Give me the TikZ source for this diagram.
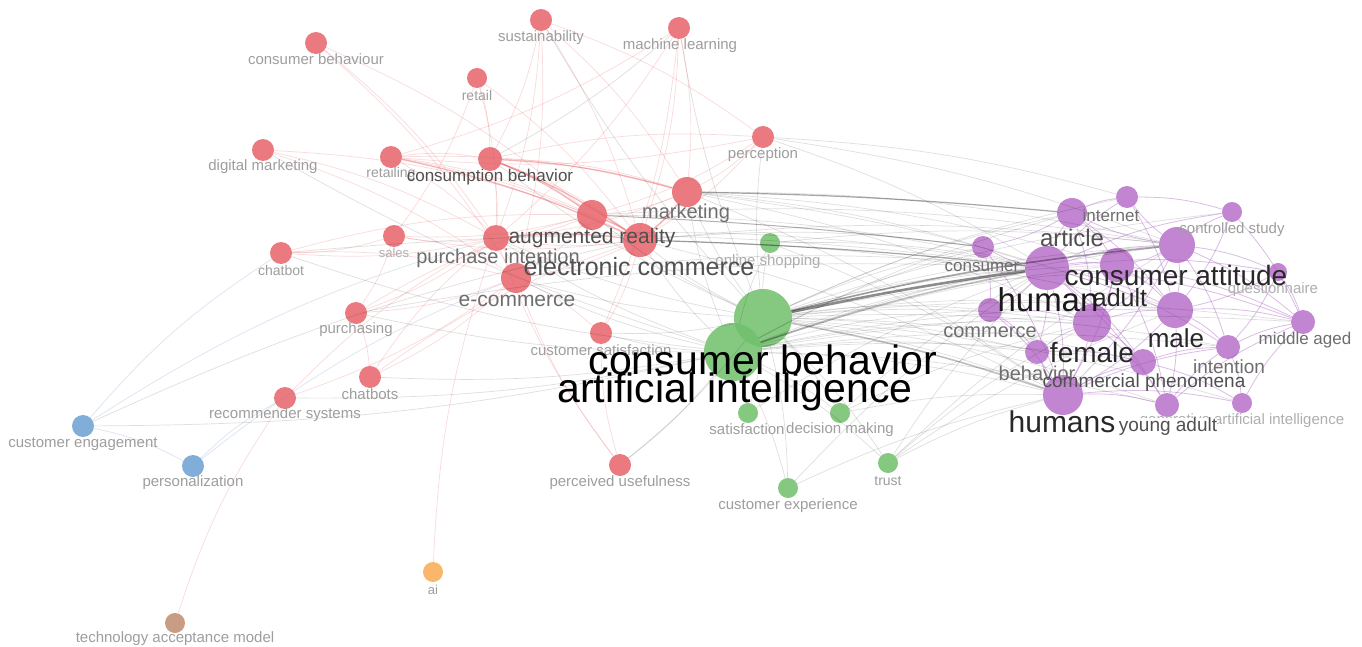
\documentclass[tikz,border=0pt]{standalone}
\usepackage{fontspec}
\setmainfont{Liberation Sans}
\begin{document}
\begin{tikzpicture}[x=1pt,y=-1pt,
  kw/.style={circle, inner sep=0pt, draw=none, fill opacity=0.85},
  lab/.style={inner sep=0pt, anchor=center},
  redge/.style={draw={rgb,255:red,232;green,90;blue,98}, opacity=0.22, line width=0.7pt},
  pedge/.style={draw={rgb,255:red,165;green,90;blue,190}, opacity=0.4, line width=0.8pt},
  gedge/.style={draw=black, opacity=0.13, line width=0.7pt},
  hedge/.style={draw=black, opacity=0.35, line width=1.6pt},
  bedge/.style={draw={rgb,255:red,110;green,150;blue,200}, opacity=0.25, line width=0.7pt},
]
\definecolor{cred}{RGB}{232,98,106}
\definecolor{cgreen}{RGB}{112,192,108}
\definecolor{cpurple}{RGB}{184,112,202}
\definecolor{cblue}{RGB}{108,160,210}
\definecolor{corange}{RGB}{250,170,80}
\definecolor{cbrown}{RGB}{192,140,110}
\definecolor{tsmall}{RGB}{158,158,158}
\definecolor{tlight}{RGB}{175,175,175}
\definecolor{tmid}{RGB}{110,110,110}
\definecolor{tdark}{RGB}{80,80,80}
\definecolor{tbig}{RGB}{40,40,40}

\useasboundingbox (0,0) rectangle (1362,647);
\fill[white] (0,0) rectangle (1362,647);

% ---- keyword nodes (circle centre, radius, colour) ----
\newcommand{\kwnode}[5]{\node[kw, minimum size=#4*2pt, fill=#5] (#1) at (#2,#3) {};}
% red cluster
\kwnode{cbehaviour}{316}{43}{11}{cred}
\kwnode{sustain}{541}{20}{11}{cred}
\kwnode{ml}{679}{28}{11}{cred}
\kwnode{retail}{477}{78}{10}{cred}
\kwnode{digmkt}{263}{150}{11}{cred}
\kwnode{retailing}{391}{157}{11}{cred}
\kwnode{consbeh}{490}{159}{12}{cred}
\kwnode{perception}{763}{137}{11}{cred}
\kwnode{marketing}{687}{192}{15}{cred}
\kwnode{augreal}{592}{215}{15}{cred}
\kwnode{ecom2}{640}{240}{17}{cred}
\kwnode{purint}{496}{238}{13}{cred}
\kwnode{sales}{394}{236}{11}{cred}
\kwnode{chatbot}{281}{253}{11}{cred}
\kwnode{ecommerce}{516}{278}{15}{cred}
\kwnode{purchasing}{356}{313}{11}{cred}
\kwnode{custsat}{601}{333}{11}{cred}
\kwnode{chatbots}{370}{377}{11}{cred}
\kwnode{recsys}{285}{398}{11}{cred}
\kwnode{perus}{620}{465}{11}{cred}
% small clusters
\kwnode{custeng}{83}{426}{11}{cblue}
\kwnode{personal}{193}{466}{11}{cblue}
\kwnode{ai}{433}{572}{10}{corange}
\kwnode{tam}{175}{623}{10}{cbrown}
% green cluster
\kwnode{onlineshop}{770}{243}{10}{cgreen}
\kwnode{cb}{763}{318}{29}{cgreen}
\kwnode{aimain}{733}{352}{29}{cgreen}
\kwnode{satisfaction}{748}{413}{10}{cgreen}
\kwnode{decision}{840}{413}{10}{cgreen}
\kwnode{trust}{888}{463}{10}{cgreen}
\kwnode{custexp}{788}{488}{10}{cgreen}
% purple cluster
\kwnode{internet}{1127}{197}{11}{cpurple}
\kwnode{article}{1072}{213}{15}{cpurple}
\kwnode{ctrlstudy}{1232}{212}{10}{cpurple}
\kwnode{consumer}{983}{247}{11}{cpurple}
\kwnode{human}{1047}{268}{22}{cpurple}
\kwnode{consatt}{1177}{245}{18}{cpurple}
\kwnode{adult}{1117}{265}{17}{cpurple}
\kwnode{questionnaire}{1278}{272}{9}{cpurple}
\kwnode{commerce}{990}{310}{12}{cpurple}
\kwnode{female}{1092}{323}{19}{cpurple}
\kwnode{male}{1175}{310}{18}{cpurple}
\kwnode{middleaged}{1303}{322}{12}{cpurple}
\kwnode{intention}{1228}{347}{12}{cpurple}
\kwnode{behavior}{1037}{352}{12}{cpurple}
\kwnode{commphen}{1143}{362}{13}{cpurple}
\kwnode{humans}{1063}{395}{20}{cpurple}
\kwnode{youngadult}{1167}{405}{12}{cpurple}
\kwnode{genai}{1242}{403}{10}{cpurple}

% ---- links ----
\foreach \a/\b in {cbehaviour/purint, cbehaviour/ecommerce, cbehaviour/augreal,
  sustain/consbeh, sustain/ecom2, sustain/marketing, sustain/purint, sustain/perception, sustain/ecommerce,
  ml/marketing, ml/purint, ml/ecom2, ml/retailing, ml/custsat,
  retail/consbeh, retail/purint, retail/ecom2, retail/sales,
  digmkt/ecommerce, digmkt/purint, digmkt/augreal,
  retailing/consbeh, retailing/augreal, retailing/purint, retailing/marketing, retailing/ecom2,
  consbeh/augreal, consbeh/marketing, consbeh/ecom2, consbeh/purint, consbeh/perception,
  perception/marketing, perception/augreal, perception/ecom2, perception/retailing,
  marketing/augreal, marketing/ecom2, marketing/purint,
  augreal/ecom2, augreal/purint, augreal/ecommerce, augreal/sales,
  ecom2/purint, ecom2/ecommerce, ecom2/sales, ecom2/custsat,
  purint/sales, purint/ecommerce, purint/chatbot, purint/purchasing,
  sales/chatbot, sales/purchasing,
  chatbot/ecommerce, chatbot/augreal,
  ecommerce/purchasing, ecommerce/chatbots, ecommerce/custsat, ecommerce/recsys,
  purchasing/chatbots, purchasing/augreal,
  chatbots/ecom2, chatbots/purint, recsys/purint,
  perus/ecommerce, perus/custsat, perus/purint, ai/purint, tam/recsys}
  \draw[redge] (\a) to[bend left=8] (\b);
\foreach \a/\b in {retailing/ecom2, consbeh/ecom2, consbeh/augreal, augreal/ecom2, marketing/ecom2, purint/ecom2, consbeh/marketing}
  \draw[redge, opacity=0.45, line width=1.2pt] (\a) to[bend left=6] (\b);
\foreach \a/\b in {custeng/personal, custeng/purint, custeng/chatbot, personal/ecommerce, personal/recsys}
  \draw[bedge] (\a) to[bend left=8] (\b);

\foreach \b in {human, consatt, article, adult, female, male, humans, commerce, consumer, internet,
  commphen, behavior, intention, youngadult, middleaged, ctrlstudy, questionnaire, genai,
  marketing, ecom2, augreal, ecommerce, purint, custsat, onlineshop, satisfaction, decision,
  trust, custexp, perception, ml, sustain, consbeh, perus}
  \draw[gedge] (cb) to[bend left=6] (\b);
\foreach \b in {human, consatt, article, adult, female, male, humans, commerce, consumer,
  commphen, behavior, youngadult, ecommerce, purint, marketing, ecom2, chatbots, recsys,
  custeng, purchasing, chatbot, satisfaction, decision, trust, custexp, onlineshop, perus,
  custsat, digmkt, intention, middleaged}
  \draw[gedge] (aimain) to[bend left=6] (\b);
\foreach \a/\b in {marketing/human, marketing/consatt, marketing/humans, marketing/female,
  ecom2/consumer, ecom2/consatt, ecom2/humans, ecom2/male, augreal/human,
  onlineshop/human, onlineshop/consatt, trust/human, trust/humans, trust/female, trust/consatt,
  custexp/human, custexp/humans, decision/human, decision/humans, satisfaction/human,
  perception/human, perception/consatt, perception/internet, ml/consbeh, purint/human,
  ecommerce/human, custeng/ecom2, chatbot/human, purchasing/human, marketing/adult,
  marketing/male, augreal/consatt, onlineshop/humans, trust/male, decision/female}
  \draw[gedge] (\a) to[bend left=6] (\b);
\draw[hedge, line width=2.6pt, opacity=0.45] (cb) to[bend left=2] (human);
\draw[hedge] (cb) to[bend left=4] (consatt);
\draw[hedge, opacity=0.25] (cb) to[bend left=4] (humans);
\draw[hedge, opacity=0.25] (aimain) to[bend left=4] (human);
\draw[hedge, line width=1.2pt, opacity=0.35] (marketing) to[bend left=2] (article);
\draw[hedge, line width=1.2pt, opacity=0.35] (ecom2) to[bend left=2] (human);
\draw[hedge, line width=1pt, opacity=0.3] (augreal) to[bend left=2] (consumer);

\foreach \a/\b in {human/article, human/consatt, human/adult, human/female, human/male, human/humans,
  human/commerce, human/consumer, human/behavior, human/commphen, human/internet, human/intention,
  human/youngadult, human/middleaged, human/ctrlstudy, human/questionnaire,
  consatt/article, consatt/adult, consatt/female, consatt/male, consatt/humans, consatt/internet,
  consatt/ctrlstudy, consatt/questionnaire, consatt/middleaged, consatt/intention,
  adult/female, adult/male, adult/humans, adult/youngadult, adult/middleaged,
  female/male, female/humans, female/youngadult, female/commphen,
  male/humans, male/middleaged, male/youngadult, male/intention,
  humans/commphen, humans/behavior, humans/youngadult, humans/genai,
  article/internet, article/consumer, article/adult,
  commphen/intention, commphen/genai, youngadult/middleaged, ctrlstudy/middleaged,
  questionnaire/middleaged, intention/middleaged, commerce/behavior, commerce/humans,
  internet/male, internet/ctrlstudy, intention/genai, questionnaire/intention,
  consumer/commerce, consumer/humans, article/male, article/female, commerce/female,
  behavior/female, behavior/commphen, humans/intention, youngadult/intention,
  genai/middleaged, ctrlstudy/male, questionnaire/male}
  \draw[pedge] (\a) to[bend left=8] (\b);

% red circles once more, above their own dense links
\foreach \n in {cbehaviour, sustain, ml, retail, digmkt, retailing, consbeh, perception, marketing,
  augreal, ecom2, purint, sales, chatbot, ecommerce, purchasing, custsat, chatbots, recsys, perus}
  \fill[cred, opacity=0.85] (\n.center) circle [radius={0.5*\pgfkeysvalueof{/pgf/minimum width}}];

% ---- labels ----
\newcommand{\kwlabel}[6]{\node[lab, text=#5, font=\fontsize{#4}{#4}\selectfont] (#1) at (#2,#3) {#6};}
\kwlabel{l-cbehaviour}{316}{59}{15}{tsmall}{consumer behaviour}
\kwlabel{l-sustain}{541}{38}{15}{tsmall}{sustainability}
\kwlabel{l-ml}{680}{46}{15}{tsmall}{machine learning}
\kwlabel{l-retail}{477}{95}{14}{tsmall}{retail}
\kwlabel{l-digmkt}{263}{167}{15}{tsmall}{digital marketing}
\kwlabel{l-retailing}{391}{174}{14}{tsmall}{retailing}
\kwlabel{l-consbeh}{490}{177}{17}{tdark}{consumption behavior}
\kwlabel{l-perception}{763}{155}{15}{tsmall}{perception}
\kwlabel{l-sales}{394}{253}{13}{tlight}{sales}
\kwlabel{l-chatbot}{281}{270}{14}{tsmall}{chatbot}
\kwlabel{l-purchasing}{356}{330}{15}{tsmall}{purchasing}
\kwlabel{l-custsat}{601}{350}{15}{tsmall}{customer satisfaction}
\kwlabel{l-chatbots}{370}{394}{15}{tsmall}{chatbots}
\kwlabel{l-recsys}{285}{415}{15}{tsmall}{recommender systems}
\kwlabel{l-perus}{620}{483}{15}{tsmall}{perceived usefulness}
\kwlabel{l-custeng}{83}{444}{15}{tsmall}{customer engagement}
\kwlabel{l-personal}{193}{483}{15}{tsmall}{personalization}
\kwlabel{l-ai}{433}{590}{13}{tsmall}{ai}
\kwlabel{l-tam}{175}{639}{15}{tsmall}{technology acceptance model}
\kwlabel{l-onlineshop}{768}{262}{15}{tlight}{online shopping}
\kwlabel{l-satisfaction}{747}{429}{15}{tsmall}{satisfaction}
\kwlabel{l-decision}{840}{430}{15}{tsmall}{decision making}
\kwlabel{l-trust}{888}{481}{14}{tsmall}{trust}
\kwlabel{l-custexp}{788}{506}{15}{tsmall}{customer experience}
\kwlabel{l-marketing}{686}{213}{20}{tmid}{marketing}
\kwlabel{l-purint}{498}{258}{20}{tmid}{purchase intention}
\kwlabel{l-ecommerce}{517}{301}{21}{tmid}{e-commerce}
\kwlabel{l-augreal}{592}{238}{21}{tdark}{augmented reality}
\kwlabel{l-ecom2}{639}{267}{25}{tdark}{electronic commerce}
% purple labels
\kwlabel{l-internet}{1111}{215}{17}{tmid}{internet}
\kwlabel{l-ctrlstudy}{1232}{230}{15}{tsmall}{controlled study}
\kwlabel{l-questionnaire}{1273}{290}{15}{tlight}{questionnaire}
\kwlabel{l-consumer}{982}{267}{17}{tmid}{consumer}
\kwlabel{l-article}{1072}{238}{24}{tdark}{article}
\kwlabel{l-commerce}{990}{332}{20}{tmid}{commerce}
\kwlabel{l-behavior}{1037}{373}{20}{tmid}{behavior}
\kwlabel{l-middleaged}{1305}{340}{17}{tmid}{middle aged}
\kwlabel{l-intention}{1229}{367}{19}{tmid}{intention}
\kwlabel{l-genai}{1242}{421}{15}{tlight}{generative artificial intelligence}
\kwlabel{l-commphen}{1144}{383}{19}{tdark}{commercial phenomena}
\node[lab, text=tdark, fill=white, fill opacity=0.95, text opacity=1,
  font=\fontsize{19}{19}\selectfont] (l-youngadult) at (1168,427) {young adult};
\kwlabel{l-male}{1176}{338}{26}{tbig}{male}
\kwlabel{l-female}{1092}{352}{28}{tbig}{female}
\kwlabel{l-adult}{1120}{298}{25}{tbig}{adult}
\kwlabel{l-consatt}{1176}{275}{28}{tbig}{consumer attitude}
\kwlabel{l-human}{1048}{300}{33}{black!90}{human}
\kwlabel{l-humans}{1062}{422}{30}{tbig}{humans}
% the two largest labels
\kwlabel{l-cb}{763}{360}{41}{black}{consumer behavior}
\kwlabel{l-aimain}{735}{392}{41}{black}{artificial intelligence}
\end{tikzpicture}
\end{document}
